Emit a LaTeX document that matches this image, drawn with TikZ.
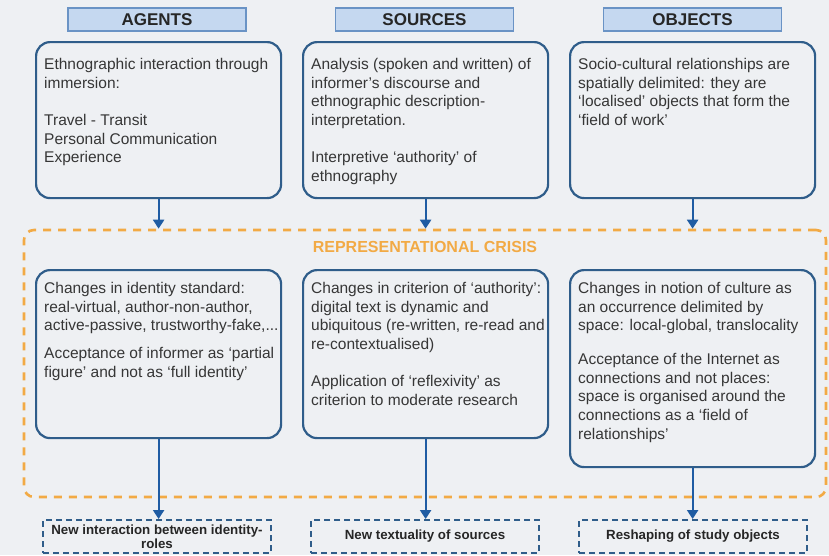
\documentclass[tikz,border=0pt]{standalone}
\usepackage{fontspec}
\setmainfont{Liberation Sans}
\usetikzlibrary{arrows.meta}

\definecolor{pagebg}{HTML}{EEF0F3}
\definecolor{boxline}{HTML}{2F5D8A}
\definecolor{headfill}{HTML}{C5D8F0}
\definecolor{headline}{HTML}{6A93C5}
\definecolor{arrowblue}{HTML}{1F5CA3}
\definecolor{crisisorange}{HTML}{F2AA45}
\definecolor{bodytext}{HTML}{363636}

\tikzset{
  header/.style={draw=headline, fill=headfill, line width=1.5pt,
    minimum width=178pt, minimum height=23pt, inner sep=0pt,
    font=\fontsize{17pt}{19pt}\selectfont\bfseries, text=black!85},
  infobox/.style={draw=boxline, line width=2.2pt, rounded corners=14pt,
    minimum width=245pt, inner sep=0pt, anchor=north west},
  bodytxt/.style={anchor=north west, inner sep=0pt, align=left,
    font=\fontsize{15.5pt}{18.7pt}\selectfont, text=bodytext},
  crisisframe/.style={draw=crisisorange, line width=2.6pt,
    dash pattern=on 8pt off 7pt, rounded corners=10pt,
    minimum width=802pt, minimum height=267pt, inner sep=0pt},
  outcome/.style={draw=boxline, line width=2pt, dash pattern=on 6pt off 4pt,
    minimum width=228pt, minimum height=33pt, inner sep=0pt, align=center,
    font=\fontsize{13.3pt}{13.8pt}\selectfont\bfseries, text=black!85},
  flow/.style={draw=arrowblue, line width=2.2pt,
    -{Triangle[length=9pt,width=11pt]}},
}

\begin{document}
\begin{tikzpicture}[x=1pt,y=-1pt]
  % page
  \fill[pagebg] (0,0) rectangle (829,555);
  \useasboundingbox (0,0) rectangle (829,555);

  % column headings
  \node[header] (hA) at (157,19.5) {AGENTS};
  \node[header] (hS) at (424.5,19.5) {SOURCES};
  \node[header] (hO) at (692.5,19.5) {OBJECTS};

  % upper boxes
  \node[infobox, minimum height=156pt] (a1) at (35,41) {};
  \node[infobox, minimum height=156pt] (s1) at (302,41) {};
  \node[infobox, minimum height=156pt] (o1) at (569,41) {};

  \node[bodytxt] (a1t) at (44,58) {Ethnographic interaction through\\
    immersion:\\[18.7pt]
    Travel - Transit\\
    Personal Communication\\
    Experience};
  \node[bodytxt] (s1t) at (311,58) {Analysis (spoken and written) of\\
    informer’s discourse and\\
    ethnographic description-\\
    interpretation.\\[18.7pt]
    Interpretive ‘authority’ of\\
    ethnography};
  \node[bodytxt] (o1t) at (578,58) {Socio-cultural relationships are\\
    spatially delimited: they are\\
    ‘localised’ objects that form the\\
    ‘field of work’};

  % dashed frame of the crisis
  \node[crisisframe] (crisis) at (425,363.5) {};
  \node[font=\fontsize{16pt}{18pt}\selectfont\bfseries, text=crisisorange,
    inner sep=0pt] (crisislabel) at (425,247) {REPRESENTATIONAL CRISIS};

  % boxes inside the crisis
  \node[infobox, minimum height=168pt] (m1) at (35,269) {};
  \node[infobox, minimum height=168pt] (m2) at (302,269) {};
  \node[infobox, minimum height=197pt] (m3) at (569,269) {};

  \node[bodytxt] (m1t) at (44,282) {Changes in identity standard:\\
    real-virtual, author-non-author,\\
    active-passive, trustworthy-fake,...\\[9pt]
    Acceptance of informer as ‘partial\\
    figure’ and not as ‘full identity’};
  \node[bodytxt] (m2t) at (311,282) {Changes in criterion of ‘authority’:\\
    digital text is dynamic and\\
    ubiquitous (re-written, re-read and\\
    re-contextualised)\\[18.7pt]
    Application of ‘reflexivity’ as\\
    criterion to moderate research};
  \node[bodytxt] (m3t) at (578,282) {Changes in notion of culture as\\
    an occurrence delimited by\\
    space: local-global, translocality\\[15pt]
    Acceptance of the Internet as\\
    connections and not places:\\
    space is organised around the\\
    connections as a ‘field of\\
    relationships’};

  % outcomes
  \node[outcome] (b1) at (157,536.5) {New interaction between identity-\\roles};
  \node[outcome] (b2) at (425,536.5) {New textuality of sources};
  \node[outcome] (b3) at (693,536.5) {Reshaping of study objects};

  % connectors
  \draw[flow] (a1.south) -- (a1.south |- crisis.north);
  \draw[flow] (s1.south) -- (s1.south |- crisis.north);
  \draw[flow] (o1.south) -- (o1.south |- crisis.north);
  \draw[flow] (m1.south) -- (m1.south |- b1.north);
  \draw[flow] (m2.south) -- (m2.south |- b2.north);
  \draw[flow] (m3.south) -- (m3.south |- b3.north);
\end{tikzpicture}
\end{document}
